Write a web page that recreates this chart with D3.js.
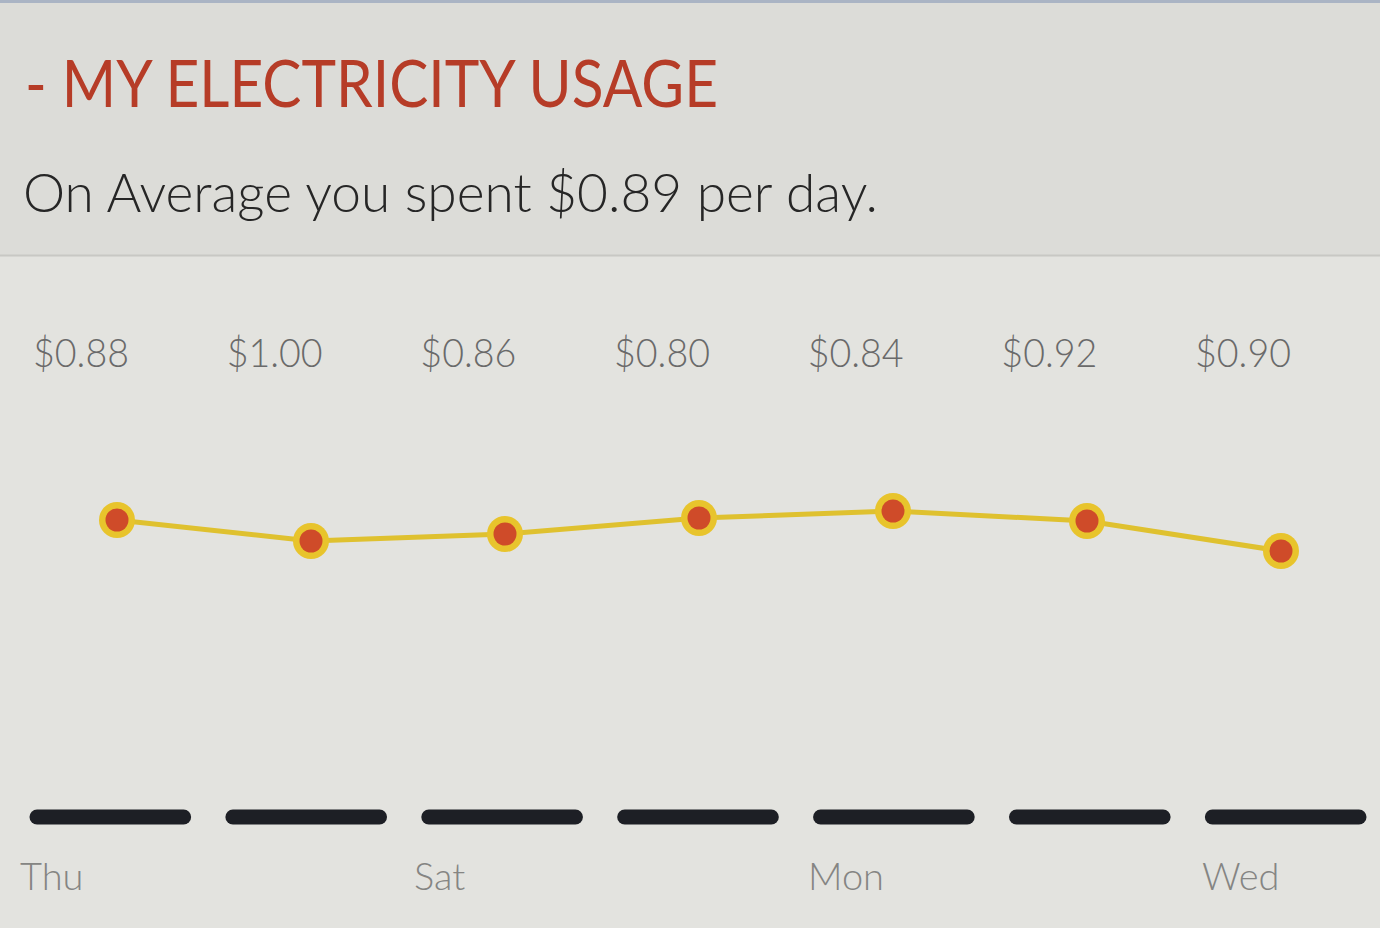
<!DOCTYPE html>
<html><head><meta charset="utf-8">
<script src="https://cdn.jsdelivr.net/npm/d3@7"></script>
<style>
html,body{margin:0;padding:0;background:#e3e3df;}
svg{display:block;}
</style></head>
<body>
<svg id="chart" width="1380" height="928"></svg>
<script>
const days = ["Thu","Fri","Sat","Sun","Mon","Tue","Wed"];
const dayTickLabels = ["Thu","","Sat","","Mon","","Wed"];
const costLabels = ["$0.88","$1.00","$0.86","$0.80","$0.84","$0.92","$0.90"];
const usage = [6.0, 4.95, 5.3, 6.1, 6.45, 5.95, 4.45];
const titleText = "- MY ELECTRICITY USAGE";
const subtitleText = "On Average you spent $0.89 per day.";

const W = 1380, H = 928;
const svg = d3.select("#chart");

svg.append("rect").attr("x",0).attr("y",0).attr("width",W).attr("height",256).attr("fill","#dcdcd8");
svg.append("rect").attr("x",0).attr("y",256).attr("width",W).attr("height",H-256).attr("fill","#e3e3df");
svg.append("line").attr("x1",0).attr("x2",W).attr("y1",255.5).attr("y2",255.5).attr("stroke","#c8c8c4").attr("stroke-width",2);
svg.append("rect").attr("x",0).attr("y",0).attr("width",W).attr("height",3).attr("fill","#aab4c4");

const font = "Lato, 'Open Sans', sans-serif";

svg.append("text").attr("x",25).attr("y",107)
  .attr("font-family",font).attr("font-size",66).attr("fill","#b63c27")
  .attr("textLength",693).attr("lengthAdjust","spacingAndGlyphs")
  .text(titleText);

svg.append("text").attr("x",23).attr("y",212)
  .attr("font-family",font).attr("font-size",54).attr("font-weight",300).attr("fill","#262626")
  .attr("textLength",855).attr("lengthAdjust","spacingAndGlyphs")
  .text(subtitleText);

const x = d3.scaleBand().domain(days).range([30,1366]).paddingInner(0.18).paddingOuter(0);
const xPt = d3.scalePoint().domain(days).range([117,1281]);
const xLbl = d3.scalePoint().domain(days).range([33,1195]);
const xDay = d3.scalePoint().domain(days).range([20,1202]);
const y = d3.scaleLinear().domain([0,10]).range([640,440]);

svg.append("g").selectAll("text").data(days).join("text")
  .attr("x",d=>xLbl(d)).attr("y",367)
  .attr("font-family",font).attr("font-size",40).attr("font-weight",300).attr("fill","#6a6a6a")
  .attr("textLength",96).attr("lengthAdjust","spacingAndGlyphs")
  .text((d,i)=>costLabels[i]);

svg.append("g").selectAll("line").data(days).join("line")
  .attr("x1",d=>x(d)+7).attr("x2",d=>x(d)+x.bandwidth()-7)
  .attr("y1",817).attr("y2",817)
  .attr("stroke","#1d1f25").attr("stroke-width",15).attr("stroke-linecap","round");

svg.append("g").selectAll("text").data(days).join("text")
  .attr("x",d=>xDay(d)).attr("y",890)
  .attr("font-family",font).attr("font-size",38).attr("font-weight",300).attr("fill","#858583")
  .text((d,i)=>dayTickLabels[i]);

const line = d3.line().x((d,i)=>xPt(days[i])).y(d=>y(d));
svg.append("path").datum(usage).attr("d",line)
  .attr("fill","none").attr("stroke","#dfc12f").attr("stroke-width",5);

const pts = svg.append("g").selectAll("g").data(usage).join("g")
  .attr("transform",(d,i)=>`translate(${xPt(days[i])},${y(d)})`);
pts.append("circle").attr("r",18).attr("fill","#e8c42c");
pts.append("circle").attr("r",11.5).attr("fill","#cf4b29");
</script>
</body></html>
